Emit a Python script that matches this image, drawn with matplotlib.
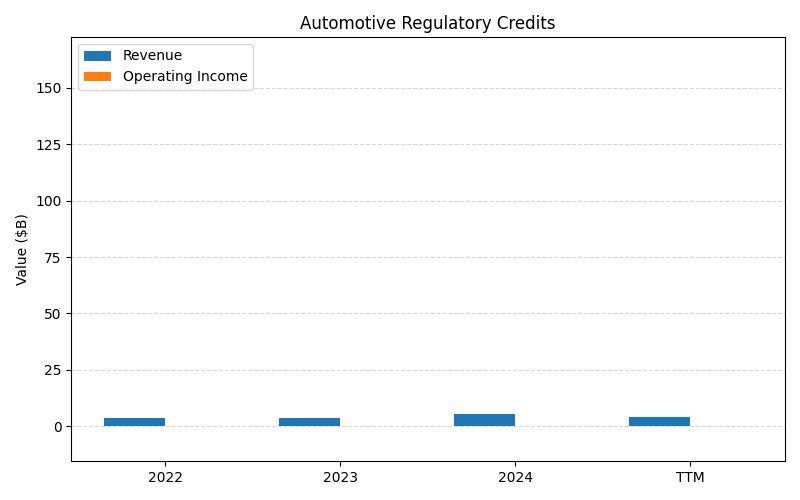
import matplotlib
matplotlib.use("Agg")
import matplotlib.pyplot as plt
import numpy as np

categories = ["2022", "2023", "2024", "TTM"]
revenue = [3.7, 3.6, 5.5, 4.1]
operating_income = [0.0, 0.0, 0.0, 0.0]

fig, ax = plt.subplots(figsize=(8, 5), dpi=100)
fig.subplots_adjust(left=0.089, right=0.981, top=0.926, bottom=0.078)
x = np.arange(len(categories))
w = 0.35
ax.bar(x - w/2, revenue, w, label="Revenue", color="#1f77b4")
ax.bar(x + w/2, operating_income, w, label="Operating Income", color="#ff7f0e")
ax.set_xticks(x)
ax.set_xticklabels(categories)
ax.set_xlim(-0.537, 3.54)
ax.set_ylim(-15.5, 172.6)
ax.set_yticks([0, 25, 50, 75, 100, 125, 150])
ax.set_ylabel("Value ($B)")
ax.set_title("Automotive Regulatory Credits")
ax.grid(axis="y", linestyle="--", alpha=0.5)
ax.set_axisbelow(True)
ax.legend(loc="upper left")
fig.savefig("out.png")
